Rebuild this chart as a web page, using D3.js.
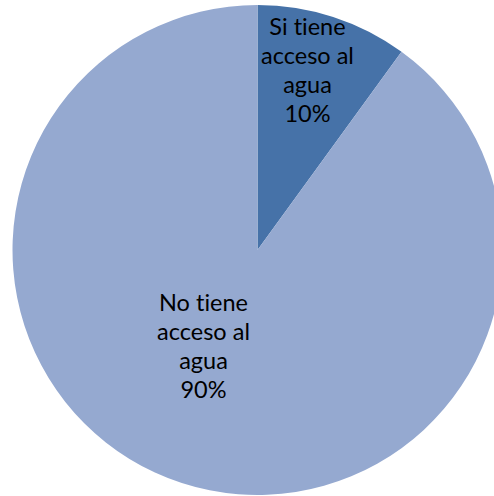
<!DOCTYPE html>
<html>
<head>
<meta charset="utf-8">
<script src="https://cdn.jsdelivr.net/npm/d3@7"></script>
<style>
  html, body { margin: 0; padding: 0; background: #ffffff; }
  svg { display: block; }
  text { font-variant-ligatures: none; font-feature-settings: "liga" 0; }
</style>
</head>
<body>
<svg id="chart" width="494" height="496"></svg>
<script>
// Data
const categories = ["Si tiene acceso al agua", "No tiene acceso al agua"];
const labelLines = [["Si tiene", "acceso al", "agua"], ["No tiene", "acceso al", "agua"]];
const values = [10, 90];
const percentLabels = ["10%", "90%"];

// Layout / style
const colors = ["#4672A8", "#95A9D0"];
const cx = 257.5, cy = 250, radius = 245;
const labelOffsets = [[50, -215], [-54, 61]]; // first-line baseline relative to center
const lineHeight = 29;

const svg = d3.select("#chart");
const g = svg.append("g").attr("transform", `translate(${cx},${cy})`);

const pie = d3.pie().sort(null).value(d => d);
const arcs = pie(values);
const arc = d3.arc().innerRadius(0).outerRadius(radius);

g.selectAll("path.slice")
  .data(arcs)
  .join("path")
  .attr("class", "slice")
  .attr("d", arc)
  .attr("fill", (d, i) => colors[i]);

// Labels
const labelG = g.selectAll("g.label")
  .data(arcs)
  .join("g")
  .attr("class", "label");

labelG.each(function(d, i) {
  const lines = labelLines[i].concat([percentLabels[i]]);
  const [ox, oy] = labelOffsets[i];
  const t = d3.select(this).append("text")
    .attr("text-anchor", "middle")
    .attr("font-family", "Lato, 'Open Sans', sans-serif")
    .attr("font-size", "23.5px")
    .attr("fill", "#000000");
  lines.forEach((line, k) => {
    t.append("tspan")
      .attr("x", ox)
      .attr("y", oy + k * lineHeight)
      .text(line);
  });
});
</script>
</body>
</html>
